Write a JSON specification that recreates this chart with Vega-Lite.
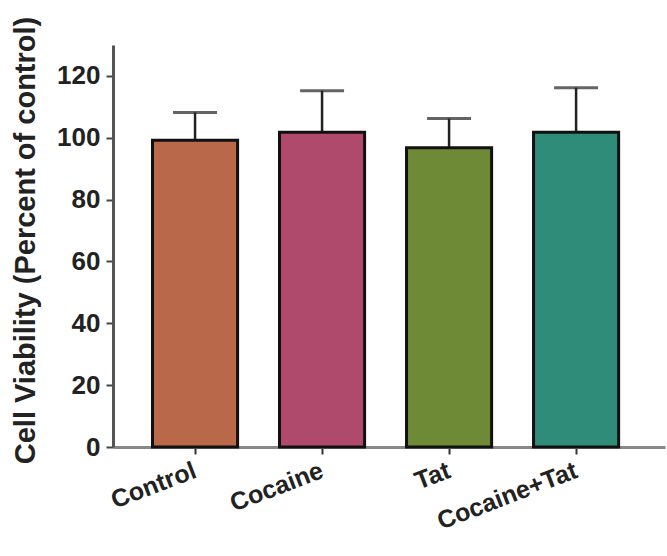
{
  "$schema": "https://vega.github.io/schema/vega-lite/v6.json",
  "width": 552,
  "height": 402,
  "autosize": {"type": "none"},
  "padding": {"left": 113, "top": 45, "right": 2, "bottom": 109},
  "background": "white",
  "config": {"view": {"stroke": null}, "font": "Liberation Sans"},
  "data": {
    "values": [
      {"group": "Control", "mean": 99.2, "upper": 108.2, "color": "#b9694a"},
      {"group": "Cocaine", "mean": 101.8, "upper": 115.2, "color": "#b04a6c"},
      {"group": "Tat", "mean": 96.8, "upper": 106.2, "color": "#6f8a36"},
      {"group": "Cocaine+Tat", "mean": 101.8, "upper": 116.2, "color": "#2f8c78"}
    ]
  },
  "encoding": {
    "x": {
      "field": "group",
      "type": "nominal",
      "sort": null,
      "scale": {"paddingInner": 0.33, "paddingOuter": 0.338, "align": 0.46},
      "axis": {
        "title": null,
        "labelAngle": -21,
        "labelAlign": "right",
        "labelBaseline": "middle",
        "labelFontSize": 25,
        "labelFontWeight": "bold",
        "labelColor": "#222",
        "labelPadding": 15,
        "tickSize": 7,
        "tickWidth": 2,
        "tickColor": "#333",
        "domainColor": "#888",
        "domainWidth": 3
      }
    }
  },
  "layer": [
    {
      "mark": {"type": "rule", "color": "#222", "strokeWidth": 2.5},
      "encoding": {
        "y": {"field": "mean", "type": "quantitative"},
        "y2": {"field": "upper"}
      }
    },
    {
      "mark": {"type": "tick", "color": "#222", "thickness": 3, "size": 44},
      "encoding": {
        "y": {"field": "upper", "type": "quantitative"}
      }
    },
    {
      "mark": {"type": "bar", "stroke": "#111", "strokeWidth": 3},
      "encoding": {
        "y": {
          "field": "mean",
          "type": "quantitative",
          "scale": {"domain": [0, 130], "nice": false},
          "axis": {
            "title": "Cell Viability (Percent of control)",
            "titleFontSize": 29,
            "titleFontWeight": "bold",
            "titleColor": "#222",
            "titlePadding": 16,
            "titleY": 195,
            "values": [0, 20, 40, 60, 80, 100, 120],
            "labelFontSize": 26,
            "labelFontWeight": "bold",
            "labelColor": "#222",
            "labelPadding": 6,
            "tickSize": 7,
            "tickWidth": 2,
            "tickColor": "#444",
            "domainColor": "#555",
            "domainWidth": 3,
            "grid": false
          }
        },
        "fill": {"field": "color", "type": "nominal", "scale": null}
      }
    }
  ]
}
